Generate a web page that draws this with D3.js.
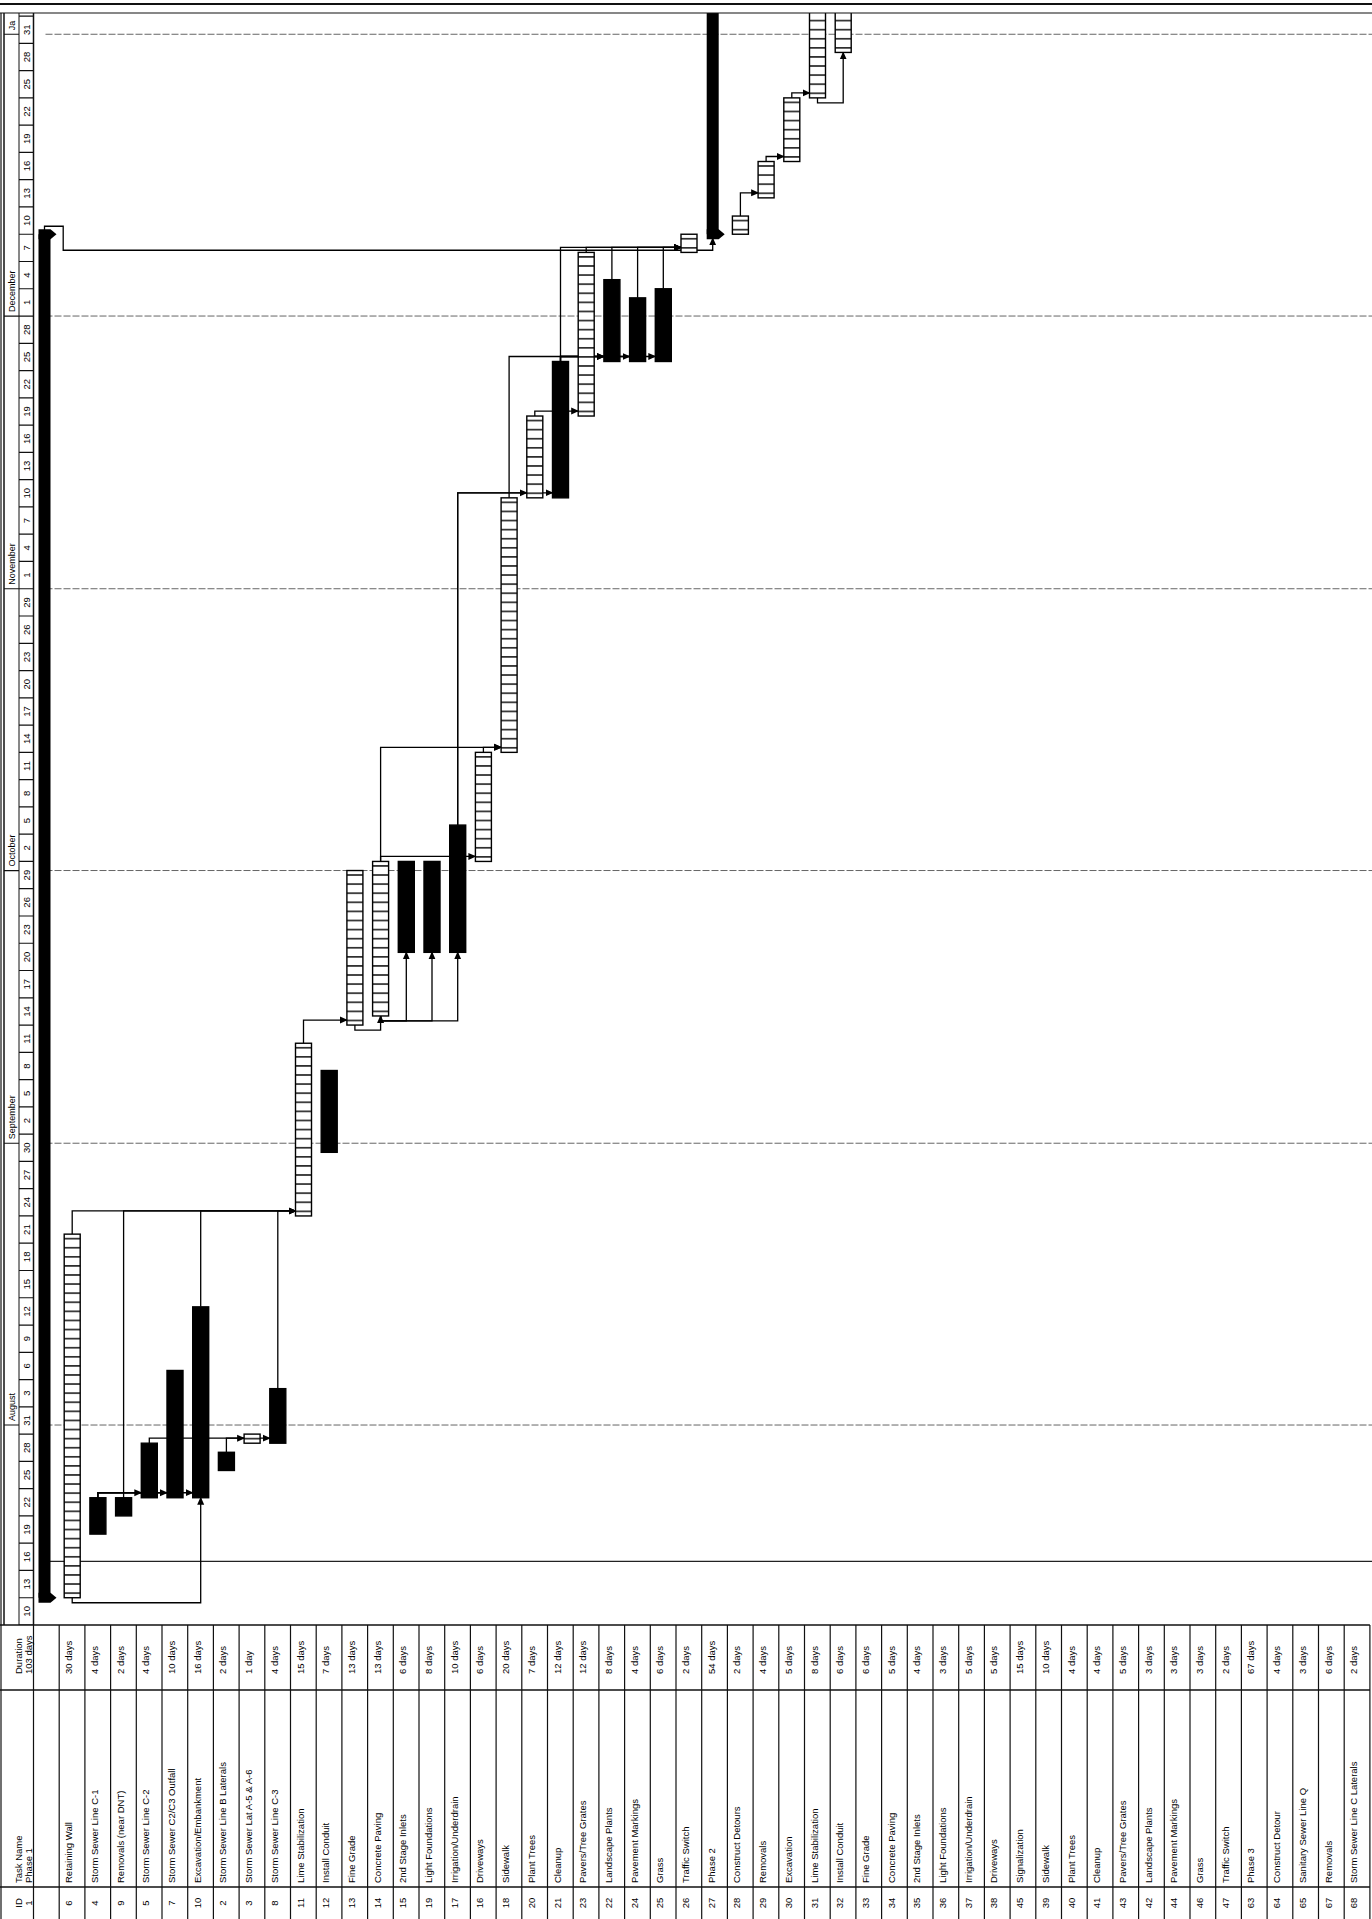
<!DOCTYPE html>
<html>
<head>
<meta charset="utf-8">
<title>Project schedule</title>
<script src="https://cdn.jsdelivr.net/npm/d3@7"></script>
<style>
  body { margin: 0; background: #ffffff; }
  svg { display: block; }
  text { font-family: "Liberation Sans", Arial, sans-serif; fill: #000; }
</style>
</head>
<body>
<div id="gantt"></div>
<script>
// Task table, top to bottom as in the printed schedule
var taskIds = [1, 6, 4, 9, 5, 7, 10, 2, 3, 8, 11, 12, 13, 14, 15, 19, 17, 16, 18, 20, 21, 23, 22, 24, 25, 26,
  27, 28, 29, 30, 31, 32, 33, 34, 35, 36, 37, 38, 45, 39, 40, 41, 43, 42, 44, 46, 47, 63, 64, 65, 67, 68];
var taskNames = ["Phase 1", "Retaining Wall", "Storm Sewer Line C-1", "Removals (near DNT)", "Storm Sewer Line C-2",
  "Storm Sewer C2/C3 Outfall", "Excavation/Embankment", "Storm Sewer Line B Laterals", "Storm Sewer Lat A-5 & A-6",
  "Storm Sewer Line C-3", "Lime Stabilization", "Install Conduit", "Fine Grade", "Concrete Paving", "2nd Stage Inlets",
  "Light Foundations", "Irrigation/Underdrain", "Driveways", "Sidewalk", "Plant Trees", "Cleanup", "Pavers/Tree Grates",
  "Landscape Plants", "Pavement Markings", "Grass", "Traffic Switch", "Phase 2", "Construct Detours", "Removals",
  "Excavation", "Lime Stabilization", "Install Conduit", "Fine Grade", "Concrete Paving", "2nd Stage Inlets",
  "Light Foundations", "Irrigation/Underdrain", "Driveways", "Signalization", "Sidewalk", "Plant Trees", "Cleanup",
  "Pavers/Tree Grates", "Landscape Plants", "Pavement Markings", "Grass", "Traffic Switch", "Phase 3",
  "Construct Detour", "Sanitary Sewer Line Q", "Removals", "Storm Sewer Line C Laterals"];
var durations = ["103 days", "30 days", "4 days", "2 days", "4 days", "10 days", "16 days", "2 days", "1 day", "4 days",
  "15 days", "7 days", "13 days", "13 days", "6 days", "8 days", "10 days", "6 days", "20 days", "7 days", "12 days",
  "12 days", "8 days", "4 days", "6 days", "2 days", "54 days", "2 days", "4 days", "5 days", "8 days", "6 days",
  "6 days", "5 days", "4 days", "3 days", "5 days", "5 days", "15 days", "10 days", "4 days", "4 days", "5 days",
  "3 days", "3 days", "3 days", "2 days", "67 days", "4 days", "3 days", "6 days", "2 days"];

// bar dates (null: beyond the printed window)
var startDates = ["2009-07-13", "2009-07-13", "2009-07-20", "2009-07-22", "2009-07-24", "2009-07-24", "2009-07-24",
  "2009-07-27", "2009-07-30", "2009-07-30", "2009-08-24", "2009-08-31", "2009-09-14", "2009-09-15", "2009-09-22",
  "2009-09-22", "2009-09-22", "2009-10-02", "2009-10-14", "2009-11-11", "2009-11-11", "2009-11-20", "2009-11-26",
  "2009-11-26", "2009-11-26", "2009-12-08", "2009-12-10", "2009-12-10", "2009-12-14", "2009-12-18", "2009-12-25",
  "2009-12-30", null, null, null, null, null, null, null, null, null, null, null, null, null, null, null, null,
  null, null, null, null];
var finishDates = ["2009-12-10", "2009-08-22", "2009-07-24", "2009-07-24", "2009-07-30", "2009-08-07", "2009-08-14",
  "2009-07-29", "2009-07-31", "2009-08-05", "2009-09-12", "2009-09-09", "2009-10-01", "2009-10-02", "2009-10-02",
  "2009-10-02", "2009-10-06", "2009-10-14", "2009-11-11", "2009-11-20", "2009-11-26", "2009-12-08", "2009-12-05",
  "2009-12-03", "2009-12-04", "2009-12-10", "2010-02-24", "2009-12-12", "2009-12-18", "2009-12-25", "2010-01-06",
  "2010-01-07", null, null, null, null, null, null, null, null, null, null, null, null, null, null, null, null,
  null, null, null, null];
// "summary", "critical" (solid bar) or "task" (ladder bar)
var barKinds = ["summary", "task", "critical", "critical", "critical", "critical", "critical", "critical", "task",
  "critical", "task", "critical", "task", "task", "critical", "critical", "critical", "task", "task", "task",
  "critical", "task", "critical", "critical", "critical", "task", "summary", "task", "task", "task", "task", "task",
  "task", "task", "task", "task", "task", "task", "task", "task", "task", "task", "task", "task", "task", "task",
  "task", "summary", "task", "task", "task", "task"];

// dependency links by task id
var linkFrom = [4, 4, 4, 5, 2, 6, 9, 10, 8, 6, 11, 13, 14, 14, 14, 14, 14, 16, 17, 17, 20, 18, 21, 21, 21,
  21, 23, 22, 24, 25, 1, 28, 29, 30, 31];
var linkTo = [5, 7, 10, 8, 3, 11, 11, 11, 11, 10, 13, 14, 15, 19, 17, 16, 18, 18, 20, 21, 23, 22, 22, 24, 25,
  26, 26, 26, 26, 26, 27, 29, 30, 31, 32];
var linkTypes = ["FS", "FS", "FS", "FS", "FS", "FS", "FS", "FS", "FS", "SS", "FS", "SS", "SS", "SS", "SS", "FS",
  "FS", "FS", "FS", "FS", "FS", "FS", "FS", "FS", "FS", "FS", "FS", "FS", "FS", "FS", "WRAP", "FS", "FS", "FS", "SS"];

// timescale (the January cell is cut off by the page edge)
var scaleStart = "2009-07-10";
var scaleEnd = "2010-01-01";
var monthStarts = ["2009-08-01", "2009-09-01", "2009-10-01", "2009-11-01", "2009-12-01", "2010-01-01"];
var monthNames = ["August", "September", "October", "November", "December", "Ja"];
var statusDate = "2009-07-17";

// page and layout
var svgWidth = 1372;
var svgHeight = 1919;
var rowTop = 33.5;
var rowH = 25.7;
var colEdges = [0, 32, 229, 294];   // ID | Task Name | Duration | chart
var chartEnd = 1906;
var tableEnd = rowTop + taskIds.length * rowH;

var parse = d3.utcParse("%Y-%m-%d");
var x = d3.scaleUtc()
  .domain([parse(scaleStart), parse(scaleEnd)])
  .range([colEdges[3], colEdges[3] + 175 * 9.09]);
var dayPx = x(d3.utcDay.offset(parse(scaleStart), 1)) - x(parse(scaleStart));

var svg = d3.select("#gantt")
  .append("svg")
  .attr("width", svgWidth)
  .attr("height", svgHeight);

svg.append("rect").attr("width", svgWidth).attr("height", svgHeight).attr("fill", "#fff");

// The print is turned a quarter turn: time runs bottom to top, rows run left to right.
var g = svg.append("g")
  .attr("transform", `translate(0, ${svgHeight}) rotate(-90)`);

var defs = svg.append("defs");
defs.append("clipPath").attr("id", "chartClip")
  .append("rect").attr("x", colEdges[3]).attr("y", 0)
  .attr("width", chartEnd - colEdges[3]).attr("height", svgWidth);
defs.append("clipPath").attr("id", "scaleClip")
  .append("rect").attr("x", colEdges[3]).attr("y", 0)
  .attr("width", chartEnd - colEdges[3]).attr("height", rowTop);

var ladder = defs.append("pattern").attr("id", "ladder")
  .attr("patternUnits", "userSpaceOnUse")
  .attr("x", x(parse(scaleStart))).attr("y", 0)
  .attr("width", dayPx).attr("height", 4);
ladder.append("rect").attr("width", dayPx).attr("height", 4).attr("fill", "#fff");
ladder.append("rect").attr("x", dayPx / 2 - 0.7).attr("width", 1.5).attr("height", 4).attr("fill", "#111");

defs.append("marker").attr("id", "arrow")
  .attr("viewBox", "0 -4 8 8").attr("refX", 7).attr("refY", 0)
  .attr("markerUnits", "userSpaceOnUse")
  .attr("markerWidth", 8).attr("markerHeight", 8)
  .attr("orient", "auto")
  .append("path").attr("d", "M0,-3.5L8,0L0,3.5Z").attr("fill", "#000");

function rowY(i) { return rowTop + i * rowH; }

var rows = taskIds.map(function(id, i) {
  return {
    id: id, i: i, name: taskNames[i], dur: durations[i], kind: barKinds[i],
    start: startDates[i] ? parse(startDates[i]) : null,
    finish: finishDates[i] ? parse(finishDates[i]) : null
  };
});
var byId = {};
rows.forEach(function(r) { byId[r.id] = r; });

function barTop(r) { return rowY(r.i) + 5; }
function barBottom(r) { return rowY(r.i) + (r.kind === "summary" ? 17 : 21); }
function barMid(r) { return (barTop(r) + barBottom(r)) / 2; }

// ---------- timescale header ----------
var scaleG = g.append("g").attr("clip-path", "url(#scaleClip)");
var dayTicks = d3.utcDay.range(parse(scaleStart), d3.utcDay.offset(parse(scaleEnd), 6))
  .filter(function(d, i) { return i % 3 === 0; });

scaleG.selectAll(".dayline").data(dayTicks).enter().append("line")
  .attr("x1", d => x(d)).attr("x2", d => x(d))
  .attr("y1", 19).attr("y2", rowTop)
  .attr("stroke", "#111").attr("stroke-width", 1.2);
scaleG.selectAll(".daylabel").data(dayTicks.filter(d => x(d) + 1.5 * dayPx < chartEnd - 5)).enter().append("text")
  .attr("x", d => x(d) + 1.5 * dayPx)
  .attr("y", 29.5)
  .attr("text-anchor", "middle")
  .style("font-size", "9.5px")
  .text(d3.utcFormat("%-d"));

scaleG.selectAll(".monthline").data(monthStarts).enter().append("line")
  .attr("x1", d => x(parse(d))).attr("x2", d => x(parse(d)))
  .attr("y1", 4).attr("y2", 19)
  .attr("stroke", "#111").attr("stroke-width", 1.2);
scaleG.selectAll(".monthlabel").data(monthStarts).enter().append("text")
  .attr("x", d => x(parse(d)) + 4)
  .attr("y", 14.5)
  .style("font-size", "9px")
  .text((d, i) => monthNames[i]);

[4, 19, rowTop].forEach(function(v) {
  g.append("line").attr("x1", colEdges[3]).attr("x2", chartEnd).attr("y1", v).attr("y2", v)
    .attr("stroke", "#111").attr("stroke-width", v === 19 ? 1 : 1.5);
});

// ---------- gridlines ----------
var chart = g.append("g").attr("clip-path", "url(#chartClip)");
chart.selectAll(".grid").data(monthStarts).enter().append("line")
  .attr("x1", d => x(parse(d))).attr("x2", d => x(parse(d)))
  .attr("y1", rowTop + 12).attr("y2", svgWidth)
  .attr("stroke", "#666").attr("stroke-width", 1)
  .attr("stroke-dasharray", "7,2");
chart.append("line")
  .attr("x1", x(parse(statusDate))).attr("x2", x(parse(statusDate)))
  .attr("y1", rowTop + 12).attr("y2", svgWidth)
  .attr("stroke", "#222").attr("stroke-width", 1.4);

// ---------- links ----------
var links = linkFrom.map(function(f, k) { return { p: byId[f], s: byId[linkTo[k]], type: linkTypes[k] }; });

function linkPath(l) {
  var p = l.p, s = l.s;
  var p0 = x(p.start), p1 = x(p.finish), s0 = x(s.start);
  var path = d3.path();
  if (l.type === "SS") {
    path.moveTo(p0, barMid(p));
    path.lineTo(p0 - 5, barMid(p));
    path.lineTo(p0 - 5, barMid(s));
    path.lineTo(s0, barMid(s));
  } else if (l.type === "WRAP") {
    path.moveTo(p1 + 4, barMid(p));
    path.lineTo(p1 + 8, barMid(p));
    path.lineTo(p1 + 8, rowY(p.i + 1) + 4);
    path.lineTo(s0 - 16, rowY(p.i + 1) + 4);
    path.lineTo(s0 - 16, barMid(s));
    path.lineTo(s0 - 4, barMid(s));
  } else {
    path.moveTo(p1, barMid(p));
    path.lineTo(s0 + 5, barMid(p));
    path.lineTo(s0 + 5, barTop(s));
  }
  return path.toString();
}

chart.selectAll(".link").data(links).enter().append("path")
  .attr("d", linkPath)
  .attr("fill", "none")
  .attr("stroke", "#000")
  .attr("stroke-width", 1.3)
  .attr("marker-end", "url(#arrow)");

// ---------- bars ----------
var shown = rows.filter(r => r.start);

chart.selectAll(".bar").data(shown.filter(r => r.kind !== "summary")).enter().append("rect")
  .attr("x", r => x(r.start))
  .attr("y", r => barTop(r))
  .attr("width", r => x(r.finish) - x(r.start))
  .attr("height", r => barBottom(r) - barTop(r))
  .attr("fill", r => r.kind === "critical" ? "#000" : "url(#ladder)")
  .attr("stroke", "#000")
  .attr("stroke-width", 1.4);

var summaries = shown.filter(r => r.kind === "summary");
chart.selectAll(".sumbar").data(summaries).enter().append("rect")
  .attr("x", r => x(r.start))
  .attr("y", r => barTop(r))
  .attr("width", r => x(r.finish) - x(r.start))
  .attr("height", r => barBottom(r) - barTop(r))
  .attr("fill", "#000");

function capPoints(u, r) {
  var t = barTop(r), b = barBottom(r);
  return [[u - 5, t], [u + 5, t], [u + 5, b], [u, b + 6], [u - 5, b]].join(" ");
}
chart.selectAll(".capstart").data(summaries).enter().append("polygon")
  .attr("points", r => capPoints(x(r.start), r)).attr("fill", "#000");
chart.selectAll(".capend").data(summaries).enter().append("polygon")
  .attr("points", r => capPoints(x(r.finish), r)).attr("fill", "#000");

// ---------- table ----------
var table = g.append("g");
d3.range(taskIds.length + 1).forEach(function(i) {
  table.append("line")
    .attr("x1", colEdges[0]).attr("x2", colEdges[3])
    .attr("y1", rowY(i)).attr("y2", rowY(i))
    .attr("stroke", "#111").attr("stroke-width", 1.2);
});
colEdges.slice(1).forEach(function(u) {
  table.append("line")
    .attr("x1", u).attr("x2", u)
    .attr("y1", 0).attr("y2", tableEnd)
    .attr("stroke", "#111").attr("stroke-width", 1.5);
});
table.append("line").attr("x1", 0).attr("x2", chartEnd).attr("y1", 1).attr("y2", 1)
  .attr("stroke", "#111").attr("stroke-width", 1.2);

// header labels sit right above the first (Phase 1) row in the printout
var headers = [["ID", 16, "middle"], ["Task Name", 36, "start"], ["Duration", 245, "start"]];
headers.forEach(function(h) {
  table.append("text")
    .attr("x", h[1]).attr("y", 22)
    .attr("text-anchor", h[2])
    .style("font-size", "9.5px")
    .text(h[0]);
});

function textY(r) { return r.i === 0 ? rowY(0) - 1.5 : rowY(r.i) + 13; }

var cells = table.selectAll(".row").data(rows).enter().append("g");
cells.append("text")
  .attr("x", 16).attr("y", textY)
  .attr("text-anchor", "middle")
  .style("font-size", "9.5px")
  .text(r => r.id);
cells.append("text")
  .attr("x", 36).attr("y", textY)
  .style("font-size", "9.5px")
  .text(r => r.name);
cells.append("text")
  .attr("x", 245).attr("y", textY)
  .style("font-size", "9.5px")
  .text(r => r.dur);

// outer print frame along the far end of the time axis
g.append("line").attr("x1", chartEnd).attr("x2", chartEnd).attr("y1", 0).attr("y2", svgWidth)
  .attr("stroke", "#111").attr("stroke-width", 1.2);
g.append("line").attr("x1", chartEnd + 9).attr("x2", chartEnd + 9).attr("y1", 0).attr("y2", svgWidth)
  .attr("stroke", "#111").attr("stroke-width", 2);
</script>
</body>
</html>
